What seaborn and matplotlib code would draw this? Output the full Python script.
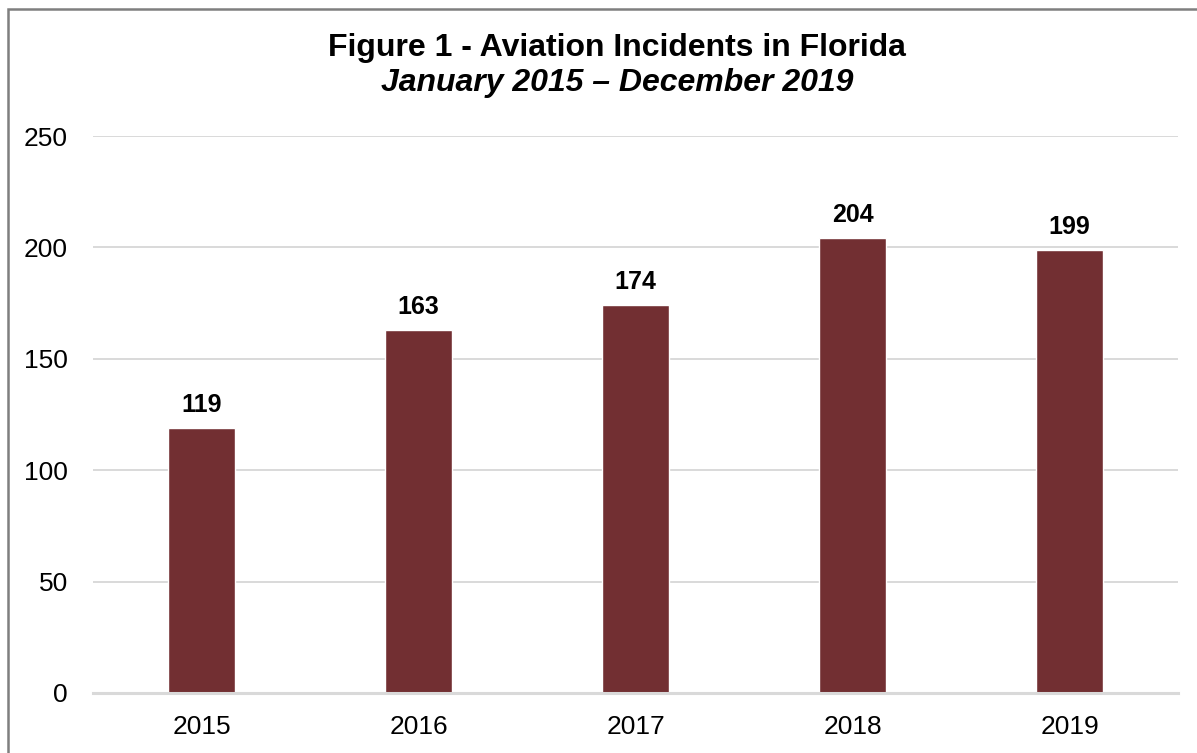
import matplotlib
matplotlib.use("Agg")
import matplotlib.pyplot as plt
import seaborn as sns
import pandas as pd
from matplotlib.patches import Rectangle

years = ["2015", "2016", "2017", "2018", "2019"]
incidents = [119, 163, 174, 204, 199]
y_ticks = [0, 50, 100, 150, 200, 250]

title_main = "Figure 1 - Aviation Incidents in Florida"
title_sub = "January 2015 \u2013 December 2019"

sns.set_theme(style="white")
plt.rcParams["font.family"] = ["Liberation Sans", "DejaVu Sans"]

df = pd.DataFrame({"year": years, "incidents": incidents})

W, H = 1197, 753
fig = plt.figure(figsize=(W / 100, H / 100), dpi=100)
ax = fig.add_axes([93 / W, 1 - 693 / H, (1178 - 93) / W, (693 - 136) / H])

sns.barplot(data=df, x="year", y="incidents", color="#722F32", width=0.31,
            saturation=1, ax=ax, zorder=3)

ax.set_ylim(0, 250)
ax.set_yticks(y_ticks)
ax.set_xlim(-0.5, len(years) - 0.5)
ax.yaxis.grid(True, color="#d9d9d9", linewidth=1.4, zorder=0)
ax.xaxis.grid(False)
for s in ["top", "right", "left"]:
    ax.spines[s].set_visible(False)
ax.spines["bottom"].set_color("#d9d9d9")
ax.spines["bottom"].set_linewidth(2.2)
ax.spines["bottom"].set_zorder(4)
ax.set_xlabel("")
ax.set_ylabel("")
ax.tick_params(axis="both", length=0, labelsize=19, colors="black")
ax.tick_params(axis="y", pad=18)
ax.tick_params(axis="x", pad=16)

for i, v in enumerate(incidents):
    ax.annotate(str(v), (i, v), xytext=(0, 8), textcoords="offset points",
                ha="center", va="bottom", fontsize=18, fontweight="bold",
                color="black")

fig.text(617 / W, 1 - 48 / H, title_main, ha="center", va="center",
         fontsize=23, fontweight="bold", color="black")
fig.text(617 / W, 1 - 83 / H, title_sub, ha="center", va="center",
         fontsize=23, fontweight="bold", fontstyle="italic", color="black")

fig.patches.append(Rectangle((8 / W, -0.1), 1.2, 1 - 9 / H + 0.1,
                             transform=fig.transFigure, fill=False,
                             edgecolor="#7f7f7f", linewidth=1.8))

fig.savefig("out.png", dpi=100, facecolor="white")
